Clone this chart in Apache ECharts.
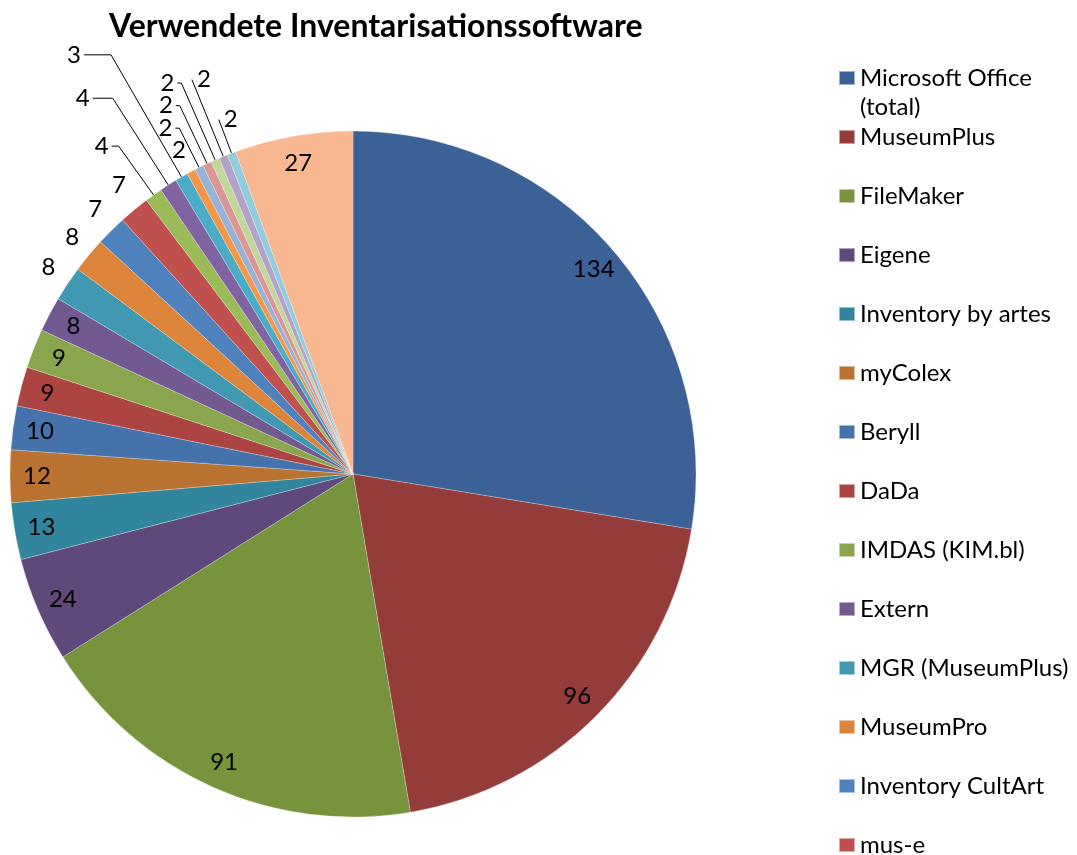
<!DOCTYPE html>
<html>
<head>
<meta charset="utf-8">
<script src="https://cdn.jsdelivr.net/npm/echarts@6/dist/echarts.min.js"></script>
<style>
html,body{margin:0;padding:0;background:#fff;}
#chart{width:1077px;height:855px;}
</style>
</head>
<body>
<div id="chart"></div>
<script>
// ---- data ----
const titleText = 'Verwendete Inventarisationssoftware';
const categories = [
  'Microsoft Office', 'MuseumPlus', 'FileMaker', 'Eigene', 'Inventory by artes',
  'myColex', 'Beryll', 'DaDa', 'IMDAS (KIM.bl)', 'Extern', 'MGR (MuseumPlus)',
  'MuseumPro', 'Inventory CultArt', 'mus-e',
  'Weitere 15', 'Weitere 16', 'Weitere 17', 'Weitere 18', 'Weitere 19',
  'Weitere 20', 'Weitere 21', 'Weitere 22', 'Weitere 23', 'Weitere 24'
];
const firstNameSuffix = '(total)';
const values = [134, 96, 91, 24, 13, 12, 10, 9, 9, 8, 8, 8, 7, 7, 4, 4, 3, 2, 2, 2, 2, 2, 2, 27];
const legendShown = 14; // legend in the picture is cut off after 14 entries

// ---- styles ----
const colors = [
  '#3B6196', '#943C3A', '#77933C', '#5F497A', '#31859C', '#B9722F',
  '#4672AC', '#AC4542', '#89A64E', '#72598F', '#4199B1', '#DB843A',
  '#4F81BD', '#C0504D', '#9BBB59', '#8064A2', '#4BACC6', '#F79646',
  '#95B3D7', '#D99694', '#C3D69B', '#B3A2C7', '#93CDDD', '#F9B891'
];
const FONT = 'Lato, "Open Sans", sans-serif';
const insideIdx = [0, 1, 2, 3, 4, 5, 6, 7, 8, 9, 23];
const outsideCfg = {
  10: {L: 29, line: false, dist: -12},
  11: {L: 28, line: false, dist: -12},
  12: {L: 30, line: false, dist: -12},
  13: {L: 32, line: false, dist: -12},
  14: {L: 60, L2: 7},
  15: {L: 103, L2: 20},
  16: {L: 141, L2: 27},
  17: {L: 24, line: false, dist: -6},
  18: {L: 44, L2: 4},
  19: {L: 64, L2: 4},
  20: {L: 84, L2: 4},
  21: {L: 83, L2: 0, dist: -5, right: true},
  22: {L: 36, L2: 0, dist: -5, right: true}
};

const labelText = {color: '#000', fontSize: 24, fontFamily: FONT, formatter: '{c}'};

const mainData = values.map((v, i) => {
  const item = {name: categories[i], value: v, itemStyle: {color: colors[i]}};
  const c = outsideCfg[i];
  if (c) {
    item.label = Object.assign({show: true, position: 'outside', distanceToLabelLine: c.dist != null ? c.dist : 3}, labelText);
    item.labelLine = {show: c.line !== false, length: c.L, length2: c.line === false ? 0 : c.L2, lineStyle: {color: '#000', width: 1}};
  } else {
    item.label = {show: false};
    item.labelLine = {show: false};
  }
  return item;
});

const ringData = values.map((v, i) => ({
  name: categories[i], value: v,
  itemStyle: {color: 'rgba(0,0,0,0)'},
  label: insideIdx.indexOf(i) >= 0 ? Object.assign({show: true, position: 'inside'}, labelText) : {show: false}
}));

const legendText = {fontSize: 24, lineHeight: 26, color: '#000', fontFamily: FONT};

const chart = echarts.init(document.getElementById('chart'), null, {renderer: 'canvas'});
chart.setOption({
  backgroundColor: '#fff',
  animation: false,
  title: {
    text: titleText, left: 104, top: 6,
    textStyle: {fontSize: 32, fontWeight: 'bold', color: '#000', fontFamily: FONT}
  },
  legend: {
    data: categories.slice(0, legendShown), orient: 'vertical', left: 838, top: 65, padding: 0,
    height: 900,
    icon: 'rect', itemWidth: 16, itemHeight: 14, itemGap: 33,
    textStyle: legendText,
    selectedMode: false
  },
  graphic: [{
    type: 'text', left: 860, top: 95,
    style: {text: firstNameSuffix, fontSize: 24, fill: '#000', fontFamily: FONT}
  }],
  series: [
    {
      type: 'pie', center: [353, 474], radius: [0, 343], startAngle: 90, clockwise: true,
      avoidLabelOverlap: false,
      labelLayout: function (p) {
        const c = outsideCfg[p.dataIndex];
        return (c && c.right) ? {hideOverlap: false, align: 'left'} : {hideOverlap: false};
      },
      itemStyle: {borderColor: 'rgba(255,255,255,0.5)', borderWidth: 0.5},
      emphasis: {disabled: true},
      data: mainData
    },
    {
      type: 'pie', center: [353, 474], radius: [283, 343], startAngle: 90, clockwise: true,
      avoidLabelOverlap: false, silent: true,
      labelLayout: {hideOverlap: false},
      emphasis: {disabled: true},
      labelLine: {show: false},
      data: ringData
    }
  ]
});
</script>
</body>
</html>
